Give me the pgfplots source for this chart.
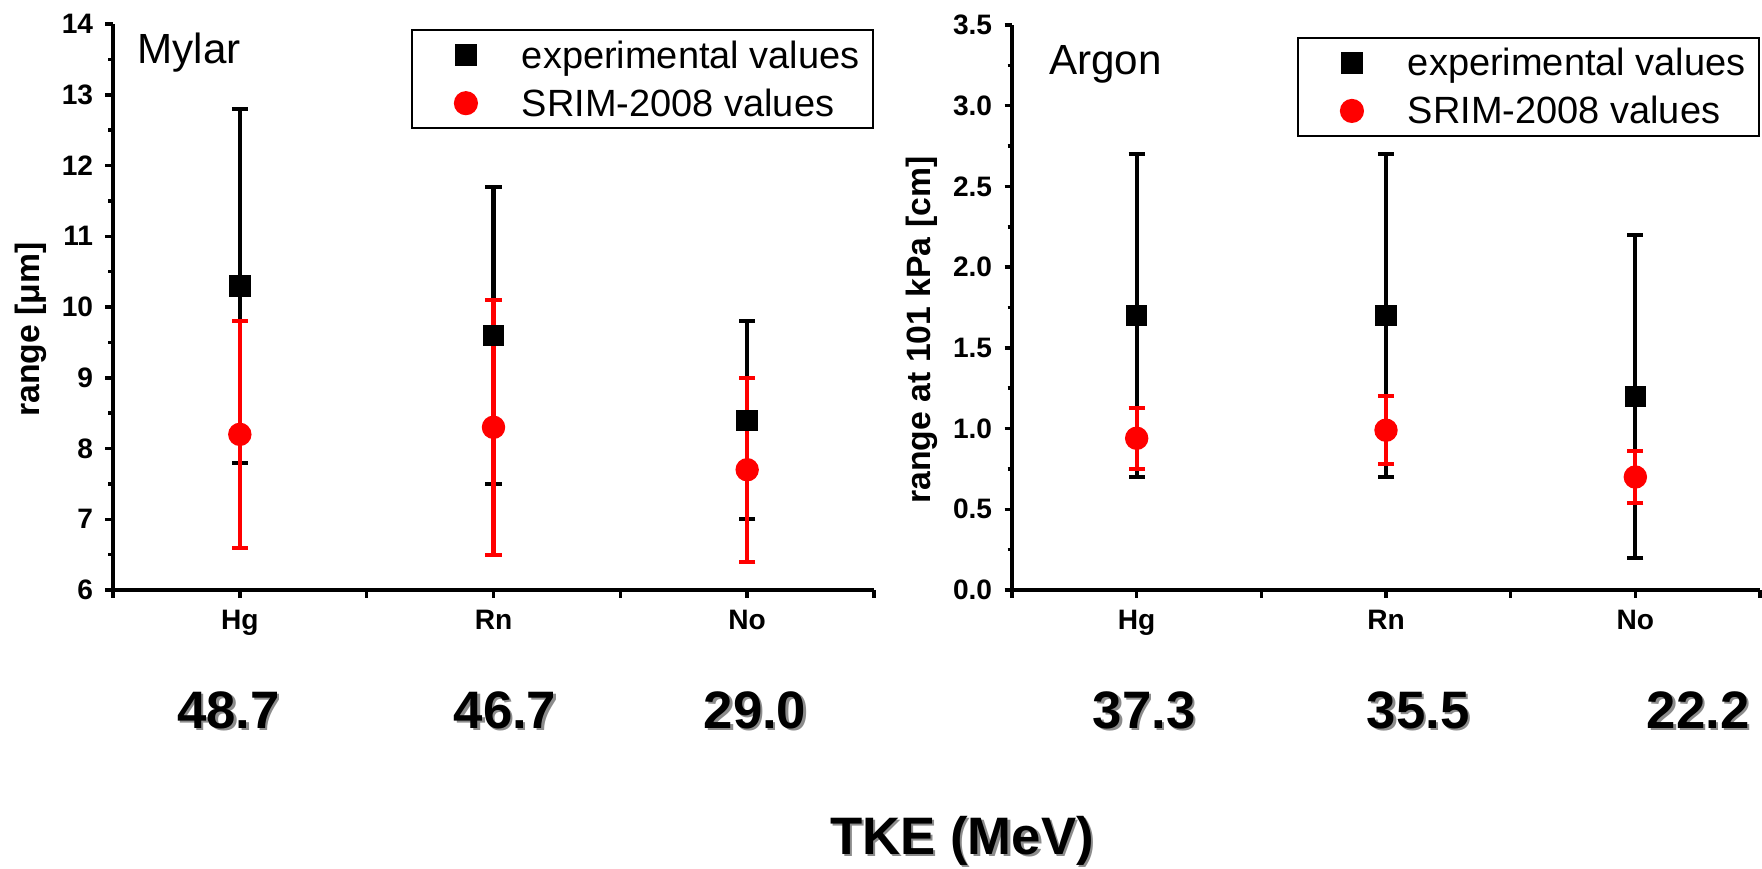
\documentclass[border=0pt]{standalone}
\usepackage{fontspec}
\setmainfont{Liberation Sans}
\usepackage{pgfplots}
\pgfplotsset{compat=1.18}

\pgfplotsset{
  rangeaxis/.style={
    scale only axis,
    axis x line=bottom, axis y line=left,
    axis line style={line width=1pt, -},
    tick align=outside,
    every tick/.style={line width=1pt, black},
    major tick length=0.75mm, minor tick length=0.45mm,
    xmin=0.5, xmax=3.5,
    xtick={1,2,3}, xticklabels={Hg,Rn,No},
    extra x ticks={0.5,1.5,2.5,3.5}, extra x tick labels={},
    minor y tick num=1,
    tick label style={font=\bfseries\fontsize{8}{9}\selectfont},
    /pgf/number format/assume math mode=true,
    legend cell align=left,
    legend style={draw=black, line width=0.6pt, inner xsep=0pt, inner ysep=0.4mm,
      font=\fontsize{10.8}{12}\selectfont, row sep=0.6mm, column sep=0pt,
      nodes={inner ysep=0pt, inner xsep=0pt, text height=3.4mm, text depth=0.8mm}},
    clip=false,
  },
  legimg/.style={legend image code/.code={\path[draw=none,fill=none] (0mm,0mm) -- (11mm,0mm);\draw[mark repeat=2,mark phase=2,##1] plot coordinates {(0mm,0mm) (5.4mm,0mm) (10.8mm,0mm)};}},
  expmark/.style={legimg, black, only marks, mark=square*, mark size=1mm, mark options={fill=black, draw=black}},
  srimmark/.style={legimg, red, only marks, mark=*, mark size=1.1mm, mark options={fill=red, draw=red}},
  ebarcol/.style={forget plot, draw=none, fill=none, no marks,
    error bars/error bar style={line width=1.15pt, draw=#1},
    error bars/error mark options={rotate=90, mark size=2.3pt, line width=1.15pt, draw=#1}},
  ebar/.style={error bars/.cd, y dir=#1, y explicit},
}

\newcommand{\shadowtext}[3]{%
  \node[anchor=base, font=\bfseries\fontsize{15}{18}\selectfont, text=black!45] at ([shift={(0.25mm,-0.25mm)}]#1,#2) {#3};%
  \node[anchor=base, font=\bfseries\fontsize{15}{18}\selectfont, text=black] at (#1,#2) {#3};}
\newcommand{\legtext}[1]{\makebox[35.1mm][l]{#1}}

\begin{document}
\begin{tikzpicture}
\useasboundingbox (0,0) rectangle (176.2mm,86.8mm);

% Left: Mylar
\begin{axis}[rangeaxis,
  at={(11.3mm,27.8mm)}, anchor=south west,
  width=76.1mm, height=56.6mm,
  ymin=6, ymax=14, ytick={6,7,...,14},
  ylabel={range [μm]},
  every axis y label/.style={at={(axis description cs:-0.108,0.46)}, rotate=90, anchor=center, font=\bfseries\fontsize{9.6}{11}\selectfont},
  legend style={at={(rel axis cs:1,0.991)}, anchor=north east},
]
% symbols
\addplot[expmark] coordinates {(1,10.3) (2,9.6) (3,8.4)};
\addlegendentry{\legtext{experimental values}}
\addplot[srimmark] coordinates {(1,8.2) (2,8.3) (3,7.7)};
\addlegendentry{\legtext{SRIM-2008 values}}
% experimental error bars
\addplot[ebarcol=black, ebar=both] coordinates {
  (1,10.3) +- (0,2.5)
  (2,9.6)  +- (0,2.1)
  (3,8.4)  +- (0,1.4)
};
% SRIM error bars (upper and lower parts, outside the symbol)
\addplot[ebarcol=red, ebar=plus] coordinates {
  (1,8.355) += (0,1.445)
  (2,8.455) += (0,1.645)
  (3,7.855) += (0,1.145)
};
\addplot[ebarcol=red, ebar=minus] coordinates {
  (1,8.045) -= (0,1.445)
  (2,8.145) -= (0,1.645)
  (3,7.545) -= (0,1.145)
};
\node[anchor=base west, inner sep=0pt, font=\fontsize{12}{14}\selectfont] at (rel axis cs:0.0315,0.931) {Mylar};
\end{axis}

% Right: Argon
\begin{axis}[rangeaxis,
  at={(101.2mm,27.8mm)}, anchor=south west,
  width=74.8mm, height=56.5mm,
  ymin=0, ymax=3.5, ytick={0,0.5,...,3.5},
  yticklabel style={/pgf/number format/fixed, /pgf/number format/fixed zerofill, /pgf/number format/precision=1},
  ylabel={range at 101  kPa [cm]},
  every axis y label/.style={at={(axis description cs:-0.120,0.46)}, rotate=90, anchor=center, font=\bfseries\fontsize{9.6}{11}\selectfont},
  legend style={at={(rel axis cs:1,0.979)}, anchor=north east},
]
\addplot[expmark] coordinates {(1,1.7) (2,1.7) (3,1.2)};
\addlegendentry{\legtext{experimental values}}
\addplot[srimmark] coordinates {(1,0.94) (2,0.99) (3,0.70)};
\addlegendentry{\legtext{SRIM-2008 values}}
\addplot[ebarcol=black, ebar=both] coordinates {
  (1,1.7) +- (0,1.0)
  (2,1.7) +- (0,1.0)
  (3,1.2) +- (0,1.0)
};
\addplot[ebarcol=red, ebar=plus] coordinates {
  (1,1.008) += (0,0.122)
  (2,1.058) += (0,0.142)
  (3,0.768) += (0,0.092)
};
\addplot[ebarcol=red, ebar=minus] coordinates {
  (1,0.872) -= (0,0.122)
  (2,0.922) -= (0,0.142)
  (3,0.632) -= (0,0.092)
};
\node[anchor=base west, inner sep=0pt, font=\fontsize{12}{14}\selectfont] at (rel axis cs:0.049,0.912) {Argon};
\end{axis}

\shadowtext{22.85mm}{14mm}{48.7}
\shadowtext{50.5mm}{14mm}{46.7}
\shadowtext{75.5mm}{14mm}{29.0}
\shadowtext{114.4mm}{14mm}{37.3}
\shadowtext{141.8mm}{14mm}{35.5}
\shadowtext{169.8mm}{14mm}{22.2}
\shadowtext{96.2mm}{1.4mm}{TKE (MeV)}
\end{tikzpicture}
\end{document}
